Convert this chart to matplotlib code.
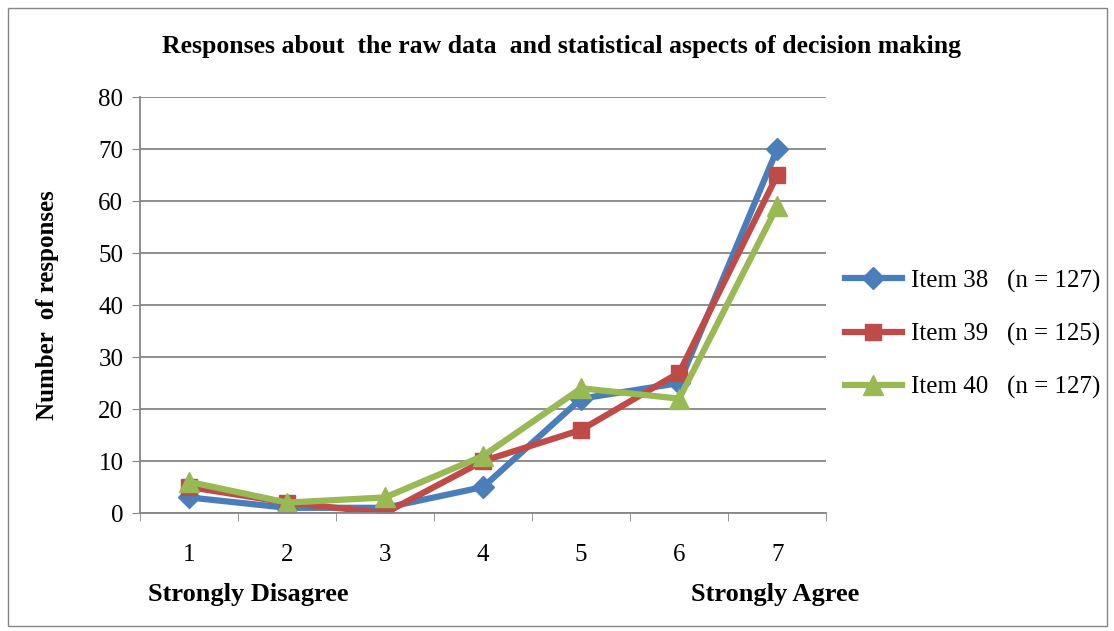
import matplotlib.pyplot as plt
from matplotlib.patches import Rectangle

plt.rcParams['font.family'] = ['Liberation Serif', 'DejaVu Serif']

# Likert scale positions and response counts per item
scale = [1, 2, 3, 4, 5, 6, 7]
item38 = [3, 1, 1, 5, 22, 25, 70]
item39 = [5, 2, 0, 10, 16, 27, 65]
item40 = [6, 2, 3, 11, 24, 22, 59]
labels = ["Item 38   (n = 127)", "Item 39   (n = 125)", "Item 40   (n = 127)"]

fig = plt.figure(figsize=(11.14, 6.31), dpi=100)
ax = fig.add_axes([0.1257, 0.187, 0.616, 0.659])

ax.plot(scale, item38, color='#4a7ebb', lw=4.5, marker='D', ms=11, label=labels[0])
ax.plot(scale, item39, color='#be4b48', lw=4.5, marker='s', ms=12, label=labels[1])
ax.plot(scale, item40, color='#98b954', lw=4.5, marker='^', ms=14, label=labels[2])

ax.set_xlim(0.5, 7.5)
ax.set_ylim(0, 80)
ax.set_yticks(range(0, 81, 10))
ax.set_xticks(scale)
ax.set_xticks([s + 0.5 for s in [0] + scale], minor=True)
ax.tick_params(axis='x', which='major', length=0, pad=22, labelsize=18)
ax.tick_params(axis='x', which='minor', length=6, color='#868686')
ax.tick_params(axis='y', length=6, color='#868686', labelsize=18, pad=6)
ax.grid(axis='y', color='#868686', lw=1.3)
ax.set_axisbelow(True)
for side in ['top', 'right']:
    ax.spines[side].set_visible(False)
for side in ['left', 'bottom']:
    ax.spines[side].set_color('#868686')
    ax.spines[side].set_linewidth(1.3)

ax.set_ylabel("Number  of responses", fontsize=18, fontweight='bold', labelpad=28)
fig.text(0.504, 0.926, "Responses about  the raw data  and statistical aspects of decision making",
         ha='center', va='center', fontsize=18.5, fontweight='bold')
fig.text(0.223, 0.058, "Strongly Disagree", ha='center', va='center', fontsize=19, fontweight='bold')
fig.text(0.696, 0.058, "Strongly Agree", ha='center', va='center', fontsize=19, fontweight='bold')

ax.legend(loc='center left', bbox_to_anchor=(0.994, 0.43), frameon=False, fontsize=18,
          handlelength=2.3, labelspacing=1.2, handletextpad=0.35)

fig.patches.append(Rectangle((0.007, 0.008), 0.987, 0.98, transform=fig.transFigure,
                             fill=False, edgecolor='#868686', lw=1))

fig.savefig('out.png', dpi=100)
